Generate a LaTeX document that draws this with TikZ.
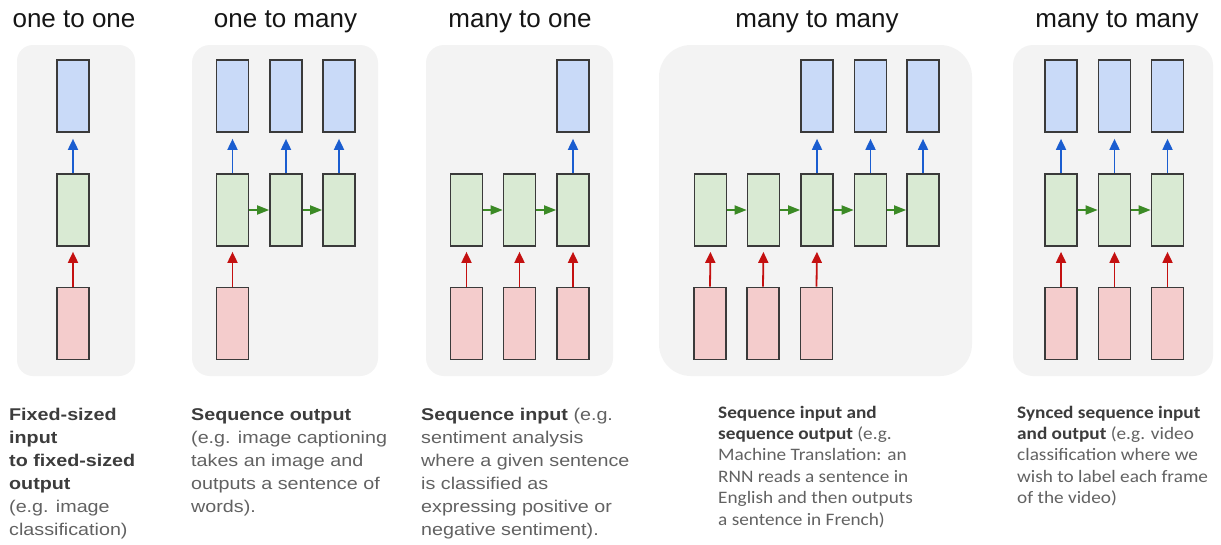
\documentclass[tikz,border=0pt]{standalone}
\usepackage{fontspec}
\setmainfont{Liberation Sans}
\newfontfamily\descfont{Liberation Sans}[FakeStretch=1.16]
\newfontfamily\calfont{Carlito}[FakeStretch=1.1]
\usetikzlibrary{arrows.meta}
\definecolor{panelbg}{HTML}{F3F3F3}
\definecolor{boxline}{HTML}{3A3A3A}
\definecolor{bluefill}{HTML}{C9DAF8}
\definecolor{greenfill}{HTML}{D9EAD3}
\definecolor{redfill}{HTML}{F4CCCC}
\definecolor{arrblue}{HTML}{1A5DD0}
\definecolor{arrred}{HTML}{C41010}
\definecolor{arrgreen}{HTML}{3B8A25}
\definecolor{titletext}{HTML}{151515}
\definecolor{normtext}{HTML}{626262}
\definecolor{boldtext}{HTML}{3C3C3C}
\newcommand\bt[1]{{\color{boldtext}\bfseries #1}}
\begin{document}
\begin{tikzpicture}[x=1pt,y=-1pt,
  panel/.style={fill=panelbg, rounded corners=#1, inner sep=0pt, draw=none},
  cell/.style={draw=boxline, line width=1.7pt, inner sep=0pt, minimum width=32pt, minimum height=72pt},
  outbox/.style={cell, fill=bluefill},
  hidbox/.style={cell, fill=greenfill},
  inbox/.style={cell, fill=redfill},
  upblue/.style={draw=arrblue, line width=1.8pt, -{Triangle[length=11pt,width=10pt]}, shorten >=6pt},
  upred/.style={draw=arrred, line width=1.8pt, -{Triangle[length=11pt,width=10pt]}, shorten >=5pt},
  rgreen/.style={draw=arrgreen, line width=1.8pt, -{Triangle[length=12pt,width=9pt]}},
  title/.style={anchor=base, font=\fontsize{26}{30}\selectfont, text=titletext, inner sep=0pt},
  descA/.style={anchor=base west, align=left, inner sep=0pt, text=normtext, font=\descfont\fontsize{17}{23}\selectfont},
  descB/.style={anchor=base west, align=left, inner sep=0pt, text=normtext, font=\calfont\fontsize{17.5}{21.4}\selectfont}]
\useasboundingbox[fill=white] (0,0) rectangle (1221,544);

% panels
\node[panel=16pt, minimum width=118pt, minimum height=331pt] (p1) at (76,210.5) {};
\node[panel=18pt, minimum width=186pt, minimum height=331pt] (p2) at (285,210.5) {};
\node[panel=18pt, minimum width=187pt, minimum height=331pt] (p3) at (519.5,210.5) {};
\node[panel=32pt, minimum width=313pt, minimum height=331pt] (p4) at (815.5,210.5) {};
\node[panel=20pt, minimum width=200pt, minimum height=331pt] (p5) at (1113,210.5) {};

% titles
\node[title] (t1) at (74,27) {one to one};
\node[title] (t2) at (285.5,27) {one to many};
\node[title] (t3) at (520,27) {many to one};
\node[title] (t4) at (817,27) {many to many};
\node[title] (t5) at (1117,27) {many to many};

% panel 1
\node[outbox] (a1-o) at (73,96) {};
\node[hidbox] (a1-h) at (73,210) {};
\node[inbox]  (a1-i) at (73,323.5) {};
\draw[upblue] (a1-h.north) -- (a1-o.south);
\draw[upred] (a1-i.north) -- (a1-h.south);

% panel 2
\foreach \n/\x in {1/232.5,2/286,3/339}{
  \node[outbox] (b\n-o) at (\x,96) {};
  \node[hidbox] (b\n-h) at (\x,210) {};
  \draw[upblue] (b\n-h.north) -- (b\n-o.south);
}
\node[inbox] (b1-i) at (232.5,323.5) {};
\draw[upred] (b1-i.north) -- (b1-h.south);
\draw[rgreen] (b1-h.east) -- (b2-h.west);
\draw[rgreen] (b2-h.east) -- (b3-h.west);

% panel 3
\foreach \n/\x in {1/466.5,2/519.5,3/573}{
  \node[hidbox] (c\n-h) at (\x,210) {};
  \node[inbox] (c\n-i) at (\x,323.5) {};
  \draw[upred] (c\n-i.north) -- (c\n-h.south);
}
\node[outbox] (c3-o) at (573,96) {};
\draw[upblue] (c3-h.north) -- (c3-o.south);
\draw[rgreen] (c1-h.east) -- (c2-h.west);
\draw[rgreen] (c2-h.east) -- (c3-h.west);

% panel 4
\foreach \n/\x in {1/710.5,2/763.5,3/817,4/870.5,5/923}{
  \node[hidbox] (d\n-h) at (\x,210) {};
}
\foreach \n/\x in {1/710,2/763,3/816.5}{
  \node[inbox] (d\n-i) at (\x,323.5) {};
  \draw[upred] (d\n-i.north) -- (d\n-h.south);
}
\foreach \n/\x in {3/817,4/870.5,5/923}{
  \node[outbox] (d\n-o) at (\x,96) {};
  \draw[upblue] (d\n-h.north) -- (d\n-o.south);
}
\foreach \a/\b in {1/2,2/3,3/4,4/5}{
  \draw[rgreen] (d\a-h.east) -- (d\b-h.west);
}

% panel 5
\foreach \n/\x in {1/1061,2/1114.5,3/1167.5}{
  \node[outbox] (e\n-o) at (\x,96) {};
  \node[hidbox] (e\n-h) at (\x,210) {};
  \node[inbox] (e\n-i) at (\x,323.5) {};
  \draw[upblue] (e\n-h.north) -- (e\n-o.south);
  \draw[upred] (e\n-i.north) -- (e\n-h.south);
}
\draw[rgreen] (e1-h.east) -- (e2-h.west);
\draw[rgreen] (e2-h.east) -- (e3-h.west);

% descriptions (anchored at the baseline of their last line)
\node[descA] (x1) at (9,535) {\bt{Fixed-sized}\\ \bt{input}\\ \bt{to fixed-sized}\\ \bt{output}\\ (e.g. image\\ classification)};
\node[descA] (x2) at (191,512) {\bt{Sequence output}\\ (e.g. image captioning\\ takes an image and\\ outputs a sentence of\\ words).};
\node[descA] (x3) at (421,535) {\bt{Sequence input} (e.g.\\ sentiment analysis\\ where a given sentence\\ is classified as\\ expressing positive or\\ negative sentiment).};
\node[descB] (x4) at (718,525) {\bt{Sequence input and}\\ \bt{sequence output} (e.g.\\ Machine Translation: an\\ RNN reads a sentence in\\ English and then outputs\\ a sentence in French)};
\node[descB] (x5) at (1017,503.6) {\bt{Synced sequence input}\\ \bt{and output} (e.g. video\\ classification where we\\ wish to label each frame\\ of the video)};
\end{tikzpicture}
\end{document}
